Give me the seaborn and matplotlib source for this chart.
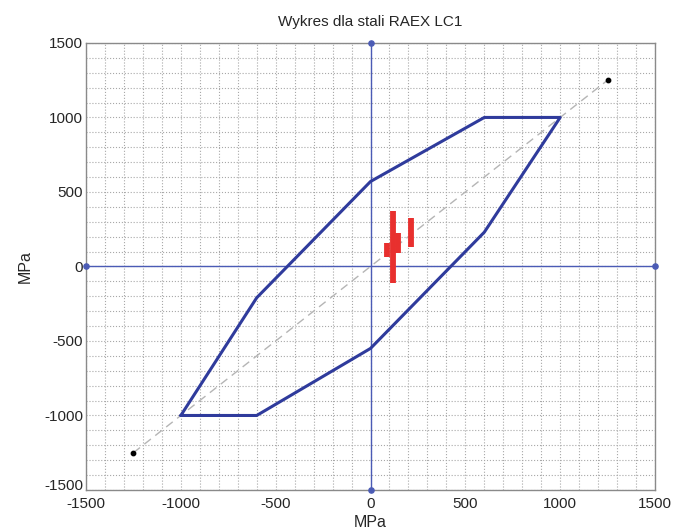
import matplotlib
matplotlib.use("Agg")
import matplotlib.pyplot as plt
import numpy as np
import pandas as pd
import seaborn as sns
from matplotlib.ticker import MultipleLocator
from matplotlib.transforms import ScaledTranslation

# envelope of the diagram (MPa)
env_x = [-1000, -600, 0, 600, 1000, 600, 0, -600, -1000]
env_y = [-1000, -1000, -550, 230, 1000, 1000, 570, -210, -1000]

# dashed diagonal with end points
diag_x = [-1250, 1250]
diag_y = [-1250, 1250]

# red stress ranges: x position, min, max
load_x = [87, 118, 145, 213]
load_min = [66, -110, 91, 133]
load_max = [158, 375, 225, 326]

# axis end markers
axis_dot_x = [0, 0, -1500, 1500]
axis_dot_y = [1500, -1500, 0, 0]

ticks = [-1500, -1000, -500, 0, 500, 1000, 1500]

ENV_COLOR = "#2f3b9c"
AXIS_COLOR = "#4b5bb5"
RED = "#e8302e"


def main() -> None:
    sns.set_style("white")
    plt.rcParams["font.family"] = ["Liberation Sans", "DejaVu Sans"]
    plt.rcParams["axes.unicode_minus"] = False

    fig = plt.figure(figsize=(6.75, 5.3), dpi=100)
    ax = fig.add_axes([0.1274, 0.0755, 0.843, 0.8435])

    ax.grid(True, which="both", color="#a8a8a8", linestyle=":", linewidth=0.8)
    ax.xaxis.set_minor_locator(MultipleLocator(100))
    ax.yaxis.set_minor_locator(MultipleLocator(100))
    ax.set_axisbelow(True)

    ax.axvline(0, color=AXIS_COLOR, lw=1.0, zorder=2)
    ax.axhline(0, color=AXIS_COLOR, lw=1.0, zorder=2)
    ax.scatter(axis_dot_x, axis_dot_y, s=14, color=AXIS_COLOR, zorder=5, clip_on=False)

    sns.lineplot(x=diag_x, y=diag_y, ax=ax, color="#b5b5b5", lw=1.0,
                 linestyle=(0, (6, 4)), sort=False, estimator=None, zorder=3)
    ax.scatter(diag_x, diag_y, s=10, color="black", zorder=5)

    env = pd.DataFrame({"x": env_x, "y": env_y})
    sns.lineplot(data=env, x="x", y="y", ax=ax, color=ENV_COLOR, lw=2.2,
                 sort=False, estimator=None, zorder=4)

    ax.vlines(load_x, load_min, load_max, color=RED, lw=4.2, zorder=6)

    ax.set_xlim(-1500, 1500)
    ax.set_ylim(-1500, 1500)
    ax.set_xticks(ticks)
    ax.set_yticks(ticks)
    ax.tick_params(which="both", direction="in", length=3, color="#888888",
                   labelsize=11)
    ax.tick_params(axis="x", pad=5)
    ax.tick_params(axis="y", pad=2)
    for s in ax.spines.values():
        s.set_color("#8a8a8a")
        s.set_linewidth(1.0)

    ax.set_title("Wykres dla stali RAEX LC1", fontsize=11, pad=12)
    ax.set_xlabel("MPa", fontsize=11.5, labelpad=3)
    ax.set_ylabel("MPa", fontsize=11.5, labelpad=8)

    # lift the lowest y label a little so it clears the x labels
    fig.canvas.draw()
    lowest = ax.get_yticklabels()[0]
    lowest.set_transform(lowest.get_transform()
                         + ScaledTranslation(0, 4 / 72, fig.dpi_scale_trans))

    fig.savefig("out.png", dpi=100)
    plt.close(fig)


if __name__ == "__main__":
    main()
